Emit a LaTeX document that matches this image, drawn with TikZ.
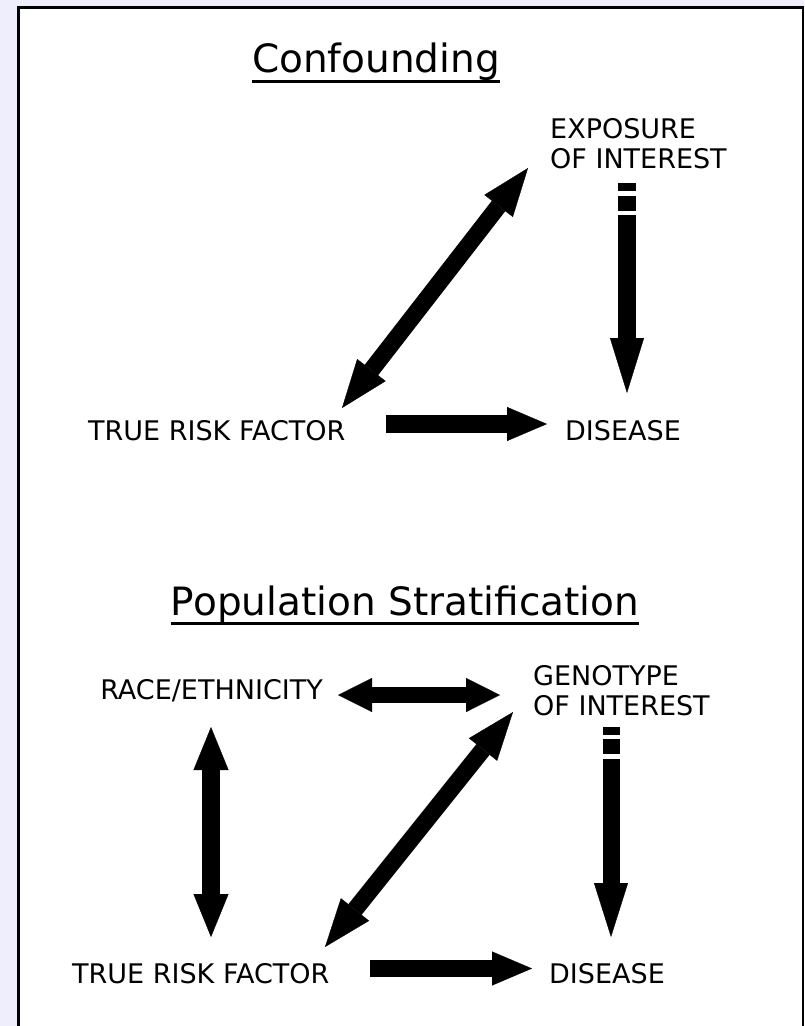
\documentclass[tikz,border=0pt]{standalone}
\usepackage{fontspec}
\setmainfont{DejaVu Sans}
\usetikzlibrary{arrows.meta}
\definecolor{bgl}{RGB}{238,238,252}
\tikzset{
  lbl/.style={inner sep=0pt, font=\fontsize{27}{30}\selectfont, align=left},
  ttl/.style={inner sep=0pt, font=\fontsize{39}{44}\selectfont, anchor=base},
  blk/.style={line width=#1, draw=black},
  blk/.default=17pt,
}
\begin{document}
\begin{tikzpicture}[x=1pt,y=-1pt]
\useasboundingbox (0,0) rectangle (804,1026);
\clip (0,0) rectangle (804,1026);
\fill[bgl] (0,0) rectangle (804,1026);
\draw[line width=2.7pt, fill=white] (18.7,7.8) rectangle (803,1040);

% titles
\node[ttl] (t1) at (376,72) {Confounding};
\draw[line width=3pt] ([yshift=-9.5pt]t1.base west) -- ([yshift=-9.5pt]t1.base east);
\node[ttl] (t2) at (405,615) {Population Stratification};
\draw[line width=3pt] ([yshift=-8.5pt]t2.base west) -- ([yshift=-8.5pt]t2.base east);

% top section
\node[lbl, anchor=north west] (exp) at (550,118) {EXPOSURE\\OF INTEREST};
\node[lbl, anchor=base west] (rf1) at (88,440) {TRUE RISK FACTOR};
\node[lbl, anchor=base west] (dis1) at (565,440) {DISEASE};

\coordinate (e1a) at (627,183);
\coordinate (e1b) at (627,393);
\coordinate (d1a) at (528,168);
\coordinate (d1b) at (342,408);
\coordinate (h1a) at (386,424);
\coordinate (h1b) at (547,424);

\draw[blk=18pt, dash pattern=on 8pt off 5pt on 15pt off 4pt on 600pt,
      -{Triangle[length=55pt 0, width=34pt 0, line width=0.3pt]}] (e1a) -- (e1b);
\draw[blk=17pt, {Triangle[length=48pt 0, width=36pt 0, line width=0.3pt]}-{Triangle[length=48pt 0, width=36pt 0, line width=0.3pt]}] (d1b) -- (d1a);
\draw[blk=18pt, -{Triangle[length=40pt 0, width=34pt 0, line width=0.3pt]}] (h1a) -- (h1b);

% bottom section
\node[lbl, anchor=base east] (race) at (323,699) {RACE/ETHNICITY};
\node[lbl, anchor=north west] (gen) at (533,665) {GENOTYPE\\OF INTEREST};
\node[lbl, anchor=base west] (rf2) at (72,983) {TRUE RISK FACTOR};
\node[lbl, anchor=base west] (dis2) at (549,983) {DISEASE};

\coordinate (r1) at (338,695);
\coordinate (r2) at (500,695);
\coordinate (v1) at (211,727);
\coordinate (v2) at (211,937);
\coordinate (d2a) at (513,712);
\coordinate (d2b) at (325,947);
\coordinate (e2a) at (611,727);
\coordinate (e2b) at (611,937);
\coordinate (h2a) at (370,968.5);
\coordinate (h2b) at (532,968.5);

\draw[blk=16pt, {Triangle[length=34pt 0, width=34pt 0, line width=0.3pt]}-{Triangle[length=34pt 0, width=34pt 0, line width=0.3pt]}] (r1) -- (r2);
\draw[blk=18pt, {Triangle[length=43pt 0, width=35pt 0, line width=0.3pt]}-{Triangle[length=43pt 0, width=35pt 0, line width=0.3pt]}] (v1) -- (v2);
\draw[blk=17pt, {Triangle[length=48pt 0, width=36pt 0, line width=0.3pt]}-{Triangle[length=48pt 0, width=36pt 0, line width=0.3pt]}] (d2b) -- (d2a);
\draw[blk=17pt, dash pattern=on 8pt off 4pt on 15pt off 5pt on 600pt,
      -{Triangle[length=54pt 0, width=34pt 0, line width=0.3pt]}] (e2a) -- (e2b);
\draw[blk=17pt, -{Triangle[length=40pt 0, width=34pt 0, line width=0.3pt]}] (h2a) -- (h2b);
\end{tikzpicture}
\end{document}
